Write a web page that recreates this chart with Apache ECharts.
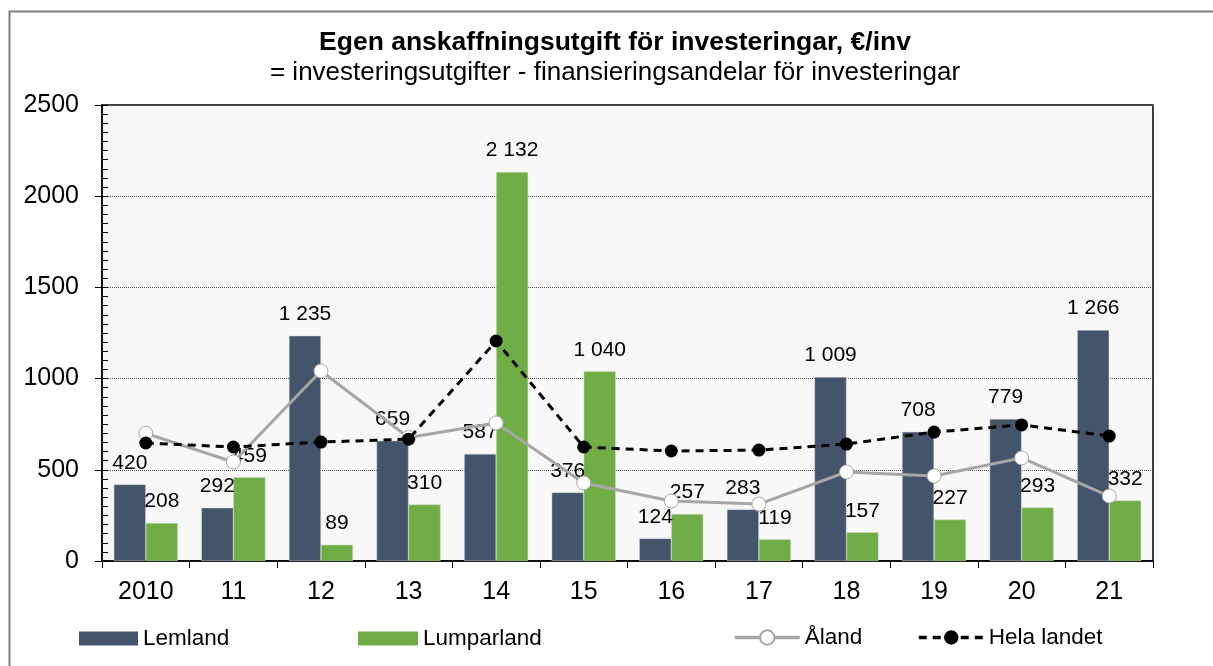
<!DOCTYPE html>
<html>
<head>
<meta charset="utf-8">
<script src="https://cdn.jsdelivr.net/npm/echarts@6/dist/echarts.min.js"></script>
<style>
html,body{margin:0;padding:0;background:#fff;}
#chart{width:1213px;height:666px;}
</style>
</head>
<body>
<div id="chart"></div>
<script>
const categories = ['2010','11','12','13','14','15','16','17','18','19','20','21'];
const lemland = [420, 292, 1235, 659, 587, 376, 124, 283, 1009, 708, 779, 1266];
const lumparland = [208, 459, 89, 310, 2132, 1040, 257, 119, 157, 227, 293, 332];
const aland = [700, 543, 1042, 677, 757, 428, 329, 312, 488, 466, 565, 356];
const helaLandet = [647, 625, 652, 668, 1206, 625, 603, 608, 641, 707, 746, 685];
const yTicks = [0, 500, 1000, 1500, 2000, 2500];

const FONT = '"Liberation Sans", Arial, sans-serif';
function fmt(v){ return String(v).replace(/\B(?=(\d{3})+(?!\d))/g, ' '); }

const chart = echarts.init(document.getElementById('chart'));
const labelStyle = {
  show: true, position: 'top', distance: 11,
  fontFamily: FONT, fontSize: 21, color: '#000',
  formatter: p => fmt(p.value)
};
const legendText = {fontFamily: FONT, fontSize: 22.5, color: '#000'};
const option = {
  animation: false,
  textStyle: {fontFamily: FONT},
  graphic: [{
    type: 'rect', left: 7, top: 9, z: -10,
    shape: {x: 0, y: 0, width: 1240, height: 700},
    style: {fill: 'none', stroke: '#7f7f7f', lineWidth: 2}
  }],
  title: {
    text: 'Egen anskaffningsutgift för investeringar, €/inv',
    subtext: '= investeringsutgifter - finansieringsandelar för investeringar',
    left: 615, textAlign: 'center', top: 29, itemGap: 4, padding: 0,
    textStyle: {fontFamily: FONT, fontSize: 26.5, fontWeight: 'bold', color: '#000'},
    subtextStyle: {fontFamily: FONT, fontSize: 26, color: '#000'}
  },
  legend: [
    {data: [{name: 'Lemland', icon: 'rect', itemStyle: {borderWidth: 0}}], left: 79, top: 627, padding: 0, itemWidth: 59, itemHeight: 14, itemGap: 7, textStyle: legendText},
    {data: [{name: 'Lumparland', icon: 'rect', itemStyle: {borderWidth: 0}}], left: 358, top: 627, padding: 0, itemWidth: 60, itemHeight: 14, textStyle: legendText},
    {data: [{name: 'Åland', lineStyle: {width: 3.5}}], left: 733, top: 626, padding: 0, itemWidth: 65, itemHeight: 18, textStyle: legendText},
    {data: [{name: 'Hela landet', lineStyle: {width: 3.5}}], left: 917, top: 626, padding: 0, itemWidth: 65, itemHeight: 18, textStyle: legendText}
  ],
  grid: {
    left: 102, right: 60, top: 105, bottom: 105,
    show: true, backgroundColor: '#f8f8f8', borderColor: '#000', borderWidth: 1.5
  },
  xAxis: {
    type: 'category', data: categories, boundaryGap: true,
    axisLine: {lineStyle: {color: '#000', width: 1.5}},
    axisTick: {show: true, alignWithLabel: false, length: 7, lineStyle: {color: '#000'}},
    axisLabel: {fontFamily: FONT, fontSize: 25, color: '#000', margin: 19}
  },
  yAxis: [{
    type: 'value', min: yTicks[0], max: yTicks[yTicks.length-1], interval: 500,
    axisLine: {show: true, lineStyle: {color: '#000', width: 1.5}},
    axisTick: {show: true, length: 7, lineStyle: {color: '#000'}},
    axisLabel: {fontFamily: FONT, fontSize: 25, color: '#000', margin: 23, formatter: v => String(v)},
    splitLine: {show: true, lineStyle: {color: '#555', type: [1, 1], width: 1}}
  }, {
    type: 'value', position: 'left', min: yTicks[0], max: yTicks[yTicks.length-1], interval: 500,
    axisLine: {show: false},
    axisTick: {show: true, inside: true, length: 6, lineStyle: {color: '#000'}},
    minorTick: {show: true, splitNumber: 10, length: 6, lineStyle: {color: '#000'}},
    axisLabel: {show: false},
    splitLine: {show: false}
  }],
  series: [
    {name: 'Lemland', type: 'bar', data: lemland, barWidth: 32, barGap: '0%',
      itemStyle: {color: '#44546a', borderColor: '#d0d4da', borderWidth: 0.5},
      label: labelStyle, z: 2},
    {name: 'Lumparland', type: 'bar', data: lumparland, barWidth: 32, barGap: '0%',
      itemStyle: {color: '#70ad47', borderColor: '#c8e0b8', borderWidth: 0.5},
      label: labelStyle, z: 2},
    {name: 'Åland', type: 'line', data: aland, symbol: 'circle', symbolSize: 14,
      lineStyle: {color: '#a6a6a6', width: 3},
      itemStyle: {color: '#fff', borderColor: '#a6a6a6', borderWidth: 1},
      z: 4},
    {name: 'Hela landet', type: 'line', data: helaLandet, symbol: 'circle', symbolSize: 13,
      lineStyle: {color: '#000', width: 3, type: [8, 6]},
      itemStyle: {color: '#000'},
      z: 5}
  ]
};
chart.setOption(option);
</script>
</body>
</html>
